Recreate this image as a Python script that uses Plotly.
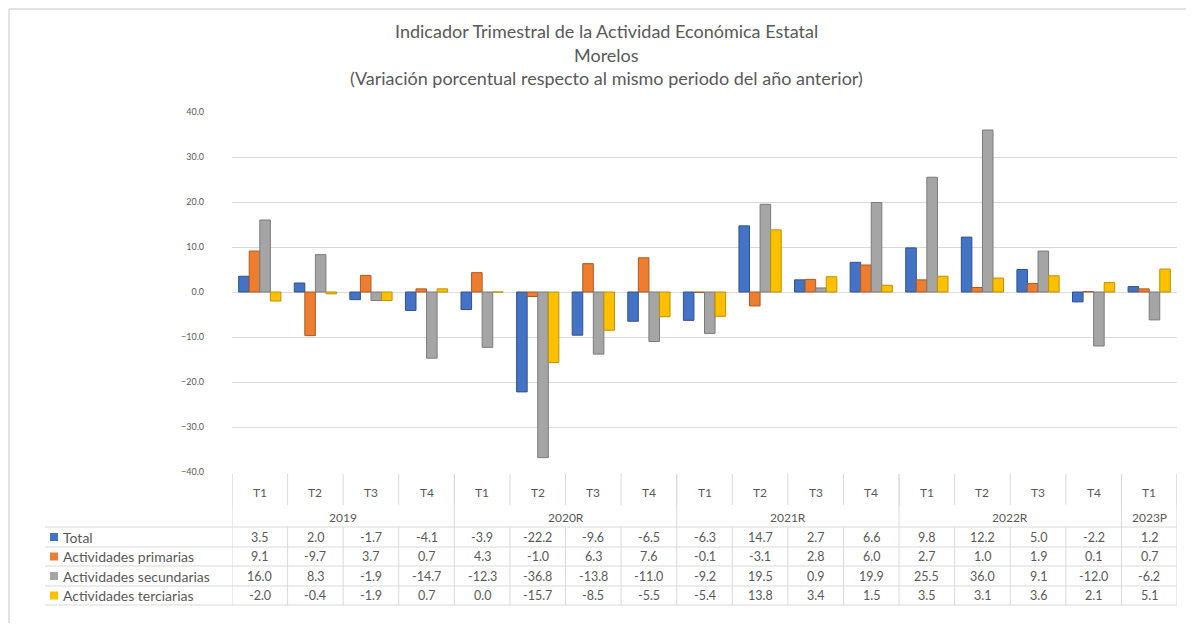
import plotly.graph_objects as go

# ---------------- data ----------------
quarters = ["T1", "T2", "T3", "T4", "T1", "T2", "T3", "T4", "T1", "T2", "T3", "T4",
            "T1", "T2", "T3", "T4", "T1"]
years = ["2019", "2020R", "2021R", "2022R", "2023P"]
year_counts = [4, 4, 4, 4, 1]

series_names = ["Total", "Actividades primarias", "Actividades secundarias", "Actividades terciarias"]
total = [3.5, 2.0, -1.7, -4.1, -3.9, -22.2, -9.6, -6.5, -6.3, 14.7, 2.7, 6.6, 9.8, 12.2, 5.0, -2.2, 1.2]
primarias = [9.1, -9.7, 3.7, 0.7, 4.3, -1.0, 6.3, 7.6, -0.1, -3.1, 2.8, 6.0, 2.7, 1.0, 1.9, 0.1, 0.7]
secundarias = [16.0, 8.3, -1.9, -14.7, -12.3, -36.8, -13.8, -11.0, -9.2, 19.5, 0.9, 19.9, 25.5, 36.0, 9.1, -12.0, -6.2]
terciarias = [-2.0, -0.4, -1.9, 0.7, 0.0, -15.7, -8.5, -5.5, -5.4, 13.8, 3.4, 1.5, 3.5, 3.1, 3.6, 2.1, 5.1]
series_values = [total, primarias, secundarias, terciarias]
colors = ["#4472C4", "#ED7D31", "#A5A5A5", "#FFC000"]
edge_colors = ["#2F528F", "#AE5A21", "#7B7B7B", "#BF9000"]

title_lines = ["Indicador Trimestral de la Actividad Económica Estatal",
               "Morelos",
               "(Variación porcentual respecto al mismo periodo del año anterior)"]

# ---------------- geometry helpers (page pixel coordinates) ----------------
OFF = 8                      # default page body margin
FW, FH = 1178, 615           # figure size
PL, PR, PT, PB = 232, 1177, 112, 472  # plot area in page pixels
FONT = "Lato"
TXT = "#595959"
GRID = "#D9D9D9"


def py(y):
    return (PB - y) / (PB - PT)


def px(x):
    return (x - PL) / (PR - PL)


n = len(quarters)
xs = list(range(n))

fig = go.Figure()
for name, vals, c, ec in zip(series_names, series_values, colors, edge_colors):
    fig.add_trace(go.Bar(x=xs, y=vals, name=name, marker=dict(color=c, line=dict(color=ec, width=1)),
                         showlegend=False))

shapes = []
annotations = []

# chart border (top and left)
shapes.append(dict(type="line", xref="paper", yref="paper", x0=px(9), x1=px(OFF + FW), y0=py(9), y1=py(9),
                   line=dict(color="#E3E3E3", width=2)))
shapes.append(dict(type="line", xref="paper", yref="paper", x0=px(9), x1=px(9), y0=py(9), y1=py(OFF + FH),
                   line=dict(color="#E3E3E3", width=2)))

# title
for t, yy in zip(title_lines, [31, 55, 78]):
    annotations.append(dict(text=t, xref="paper", yref="paper", x=px(606), y=py(yy), showarrow=False,
                            xanchor="center", yanchor="middle", font=dict(family=FONT, size=18, color=TXT)))

# table geometry
y_top = PB + 2
y_q = 492
y_year = 517
row_lines = [527, 547, 566, 586, 605]
row_centers = [537, 556.5, 576, 595.5]
lc = dict(color=GRID, width=1)

# quarter row vertical separators
for k in range(n + 1):
    xb = k - 0.5
    shapes.append(dict(type="line", xref="x", yref="paper", x0=xb, x1=xb, y0=py(y_top), y1=py(505), line=lc))
# year boundaries through year row
acc = 0
bounds = [0]
for c_ in year_counts:
    acc += c_
    bounds.append(acc)
for b in bounds:
    xb = b - 0.5
    shapes.append(dict(type="line", xref="x", yref="paper", x0=xb, x1=xb, y0=py(y_top), y1=py(row_lines[0]), line=lc))
# value rows vertical separators
for k in range(n + 1):
    xb = k - 0.5
    shapes.append(dict(type="line", xref="x", yref="paper", x0=xb, x1=xb, y0=py(row_lines[0]), y1=py(row_lines[-1]), line=lc))
# horizontal lines
for yl in row_lines:
    shapes.append(dict(type="line", xref="paper", yref="paper", x0=px(45), x1=px(PR), y0=py(yl), y1=py(yl), line=lc))

# quarter labels
for i, q in enumerate(quarters):
    annotations.append(dict(text=q, xref="x", yref="paper", x=i, y=py(y_q), showarrow=False,
                            xanchor="center", yanchor="middle", font=dict(family=FONT, size=12, color=TXT)))
# year labels
start = 0
for yname, c_ in zip(years, year_counts):
    center = start + (c_ - 1) / 2
    annotations.append(dict(text=yname, xref="x", yref="paper", x=center, y=py(y_year), showarrow=False,
                            xanchor="center", yanchor="middle", font=dict(family=FONT, size=12, color=TXT)))
    start += c_

# value rows
for r, (name, vals, c) in enumerate(zip(series_names, series_values, colors)):
    yc = row_centers[r]
    shapes.append(dict(type="rect", xref="paper", yref="paper", x0=px(50), x1=px(58), y0=py(yc - 4), y1=py(yc + 4),
                       fillcolor=c, line=dict(width=0)))
    annotations.append(dict(text=name, xref="paper", yref="paper", x=px(61), y=py(yc), showarrow=False,
                            xanchor="left", yanchor="middle", font=dict(family=FONT, size=14, color=TXT)))
    for i, v in enumerate(vals):
        annotations.append(dict(text=f"{v:.1f}", xref="x", yref="paper", x=i, y=py(yc), showarrow=False,
                                xanchor="center", yanchor="middle", font=dict(family=FONT, size=12.5, color=TXT)))

fig.update_layout(
    width=FW, height=FH,
    margin=dict(l=PL - OFF, r=OFF + FW - PR, t=PT - OFF, b=OFF + FH - PB, pad=0),
    paper_bgcolor="white", plot_bgcolor="white",
    barmode="group", bargap=0.24, bargroupgap=0.0,
    xaxis=dict(range=[-0.5, n - 0.5], showticklabels=False, showgrid=False, zeroline=False, ticks=""),
    yaxis=dict(range=[-40, 40], tickmode="array", tickvals=[-40, -30, -20, -10, 0, 10, 20, 30, 40],
               tickformat=".1f", showgrid=True, gridcolor=GRID, gridwidth=1, zeroline=True,
               zerolinecolor=GRID, zerolinewidth=1, ticks="", ticklabelstandoff=27,
               tickfont=dict(family=FONT, size=9, color=TXT)),
    shapes=shapes, annotations=annotations, font=dict(family=FONT, color=TXT),
)

fig.write_html("out.html")
